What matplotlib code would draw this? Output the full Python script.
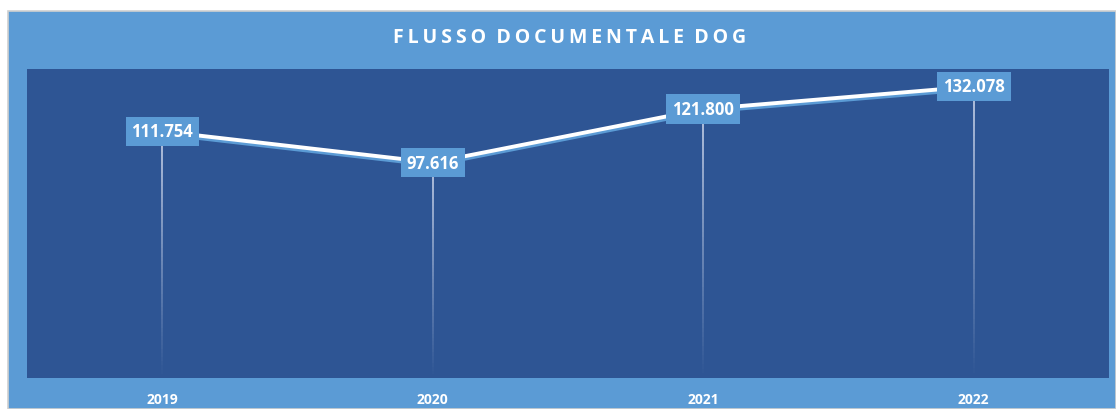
import matplotlib.pyplot as plt
import matplotlib.patheffects as pe
import numpy as np
from matplotlib.collections import LineCollection
from matplotlib.patches import Rectangle

# dati del grafico
anni = ["2019", "2020", "2021", "2022"]
documenti = [111.754, 97.616, 121.800, 132.078]
etichette = ["111.754", "97.616", "121.800", "132.078"]
titolo = "FLUSSO DOCUMENTALE DOG"

W, H = 1116, 410
chiaro = "#5B9BD5"
scuro = "#2E5594"

fig = plt.figure(figsize=(W / 100, H / 100), dpi=100)
fig.patch.set_facecolor("white")

# cornice esterna azzurra
fig.patches.append(Rectangle((8 / W, 0), 1 - 8 / W, (H - 12) / H,
                             transform=fig.transFigure, facecolor=chiaro,
                             edgecolor="#D0D0D0", linewidth=1.2, zorder=-5))

ax = fig.add_axes([27 / W, (H - 379) / H, (1109 - 27) / W, (379 - 70) / H])
ax.set_zorder(2)
ax.set_facecolor(scuro)
for s in ax.spines.values():
    s.set_visible(False)

x = np.arange(len(anni))
ax.set_xlim(-0.5, len(anni) - 0.5)
ax.set_ylim(0, 140)

# linee verticali sfumate verso il basso
for xi, v in zip(x, documenti):
    ys = np.linspace(0, v, 60)
    segs = [[(xi, ys[i]), (xi, ys[i + 1])] for i in range(len(ys) - 1)]
    alphas = np.linspace(0.0, 0.85, len(segs))
    cols = [(0.85, 0.88, 0.95, a) for a in alphas]
    ax.add_collection(LineCollection(segs, colors=cols, linewidths=1.3, zorder=2))

ax.plot(x, documenti, color="white", linewidth=2.8, zorder=3,
        path_effects=[pe.SimpleLineShadow(offset=(0, -1.8), shadow_color=chiaro, alpha=1),
                      pe.Normal()])

for xi, v, t in zip(x, documenti, etichette):
    ax.text(xi, v, t, ha="center", va="center", color="white", fontsize=12,
            fontweight="bold", family="Open Sans", zorder=5,
            bbox=dict(boxstyle="square,pad=0.35", facecolor=chiaro, edgecolor="none"))

ax.set_yticks([])
ax.set_xticks(x)
ax.set_xticklabels(anni, color="white", fontsize=10, fontweight="bold", family="Open Sans")
ax.tick_params(axis="x", length=0, pad=10)

# titolo con spaziatura tra le lettere
spaziato = "\u2009".join(titolo).replace("\u2009 \u2009", "  ")
fig.text(0.51, (H - 38) / H, spaziato, ha="center", va="center", color="white",
         fontsize=14, fontweight="bold", family="Open Sans")

fig.savefig("out.png", dpi=100)
